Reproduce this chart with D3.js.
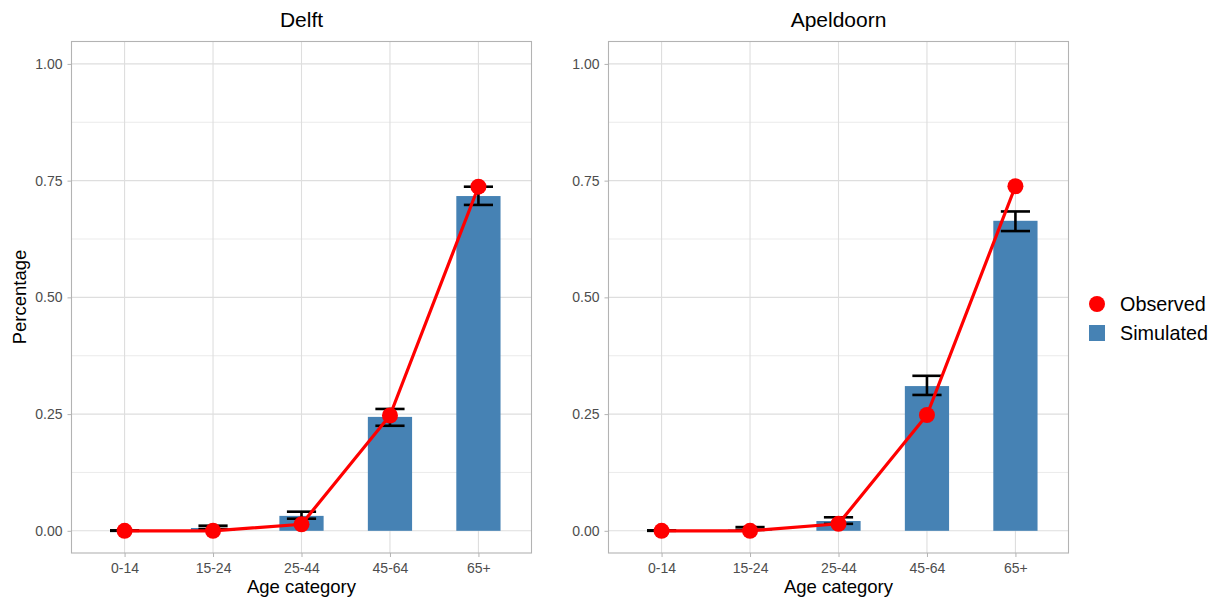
<!DOCTYPE html>
<html>
<head>
<meta charset="utf-8">
<script src="https://cdn.jsdelivr.net/npm/d3@7"></script>
<style>
  body { margin: 0; background: #fff; }
  svg { display: block; font-family: "Liberation Sans", Arial, sans-serif; }
</style>
</head>
<body>
<svg id="chart" width="1211" height="602"></svg>
<script>
// Data
const categories = ["0-14", "15-24", "25-44", "45-64", "65+"];
const panels = ["Delft", "Apeldoorn"];

const delftSimulated = [0.000, 0.006, 0.032, 0.244, 0.717];
const delftLower = [0.000, 0.004, 0.026, 0.225, 0.698];
const delftUpper = [0.001, 0.011, 0.041, 0.261, 0.737];
const delftObserved = [0.000, 0.000, 0.014, 0.247, 0.737];

const apeldoornSimulated = [0.000, 0.003, 0.021, 0.310, 0.664];
const apeldoornLower = [0.000, 0.002, 0.015, 0.291, 0.642];
const apeldoornUpper = [0.001, 0.008, 0.029, 0.332, 0.684];
const apeldoornObserved = [0.000, 0.000, 0.015, 0.248, 0.738];

const yTicks = [0, 0.25, 0.5, 0.75, 1.0];
const yMinor = [0.125, 0.375, 0.625, 0.875];

const panelData = [
  { name: panels[0], sim: delftSimulated, lo: delftLower, hi: delftUpper, obs: delftObserved },
  { name: panels[1], sim: apeldoornSimulated, lo: apeldoornLower, hi: apeldoornUpper, obs: apeldoornObserved }
];

const svg = d3.select("#chart");
const panelLefts = [71.5, 608.5];
const panelWidth = 460;
const panelTop = 41.5, panelBottom = 553;

const yScale = d3.scaleLinear().domain([-0.0475, 1.048]).range([panelBottom, panelTop]);

panelData.forEach((p, i) => {
  const left = panelLefts[i];
  const g = svg.append("g");

  // discrete x with ggplot style 0.6 expansion
  const xScale = d3.scalePoint()
    .domain(categories)
    .range([left, left + panelWidth])
    .padding(0.6);
  const step = xScale.step();

  // grid
  g.selectAll(".minor")
    .data(yMinor)
    .join("line")
    .attr("x1", left).attr("x2", left + panelWidth)
    .attr("y1", (d) => yScale(d)).attr("y2", (d) => yScale(d))
    .attr("stroke", "#e6e6e6").attr("stroke-width", 0.8);
  g.selectAll(".major")
    .data(yTicks)
    .join("line")
    .attr("x1", left).attr("x2", left + panelWidth)
    .attr("y1", (d) => yScale(d)).attr("y2", (d) => yScale(d))
    .attr("stroke", "#dedede").attr("stroke-width", 1.1);
  g.selectAll(".vgrid")
    .data(categories)
    .join("line")
    .attr("x1", (d) => xScale(d)).attr("x2", (d) => xScale(d))
    .attr("y1", panelTop).attr("y2", panelBottom)
    .attr("stroke", "#dedede").attr("stroke-width", 1.1);

  // bars
  g.selectAll(".bar")
    .data(p.sim)
    .join("rect")
    .attr("x", (d, j) => xScale(categories[j]) - step * 0.25)
    .attr("width", step * 0.5)
    .attr("y", (d) => yScale(Math.max(d, 0)))
    .attr("height", (d) => Math.abs(yScale(0) - yScale(d)))
    .attr("fill", "#4682b4");

  // error bars
  const capHalf = step * 0.165;
  const eb = g.selectAll(".err")
    .data(p.sim.map((d, j) => ({ c: categories[j], lo: p.lo[j], hi: p.hi[j] })))
    .join("g")
    .attr("stroke", "#000").attr("stroke-width", 2.6);
  eb.append("line")
    .attr("x1", (d) => xScale(d.c)).attr("x2", (d) => xScale(d.c))
    .attr("y1", (d) => yScale(d.lo)).attr("y2", (d) => yScale(d.hi));
  eb.append("line")
    .attr("x1", (d) => xScale(d.c) - capHalf).attr("x2", (d) => xScale(d.c) + capHalf)
    .attr("y1", (d) => yScale(d.lo)).attr("y2", (d) => yScale(d.lo));
  eb.append("line")
    .attr("x1", (d) => xScale(d.c) - capHalf).attr("x2", (d) => xScale(d.c) + capHalf)
    .attr("y1", (d) => yScale(d.hi)).attr("y2", (d) => yScale(d.hi));

  // observed line + points
  const line = d3.line()
    .x((d, j) => xScale(categories[j]))
    .y((d) => yScale(d));
  g.append("path")
    .datum(p.obs)
    .attr("d", line)
    .attr("fill", "none")
    .attr("stroke", "#ff0000")
    .attr("stroke-width", 3.2);
  g.selectAll(".pt")
    .data(p.obs)
    .join("circle")
    .attr("cx", (d, j) => xScale(categories[j]))
    .attr("cy", (d) => yScale(d))
    .attr("r", 8)
    .attr("fill", "#ff0000");

  // border
  g.append("rect")
    .attr("x", left).attr("y", panelTop)
    .attr("width", panelWidth).attr("height", panelBottom - panelTop)
    .attr("fill", "none").attr("stroke", "#b3b3b3").attr("stroke-width", 1.1);

  // axes
  const yAxis = g.append("g")
    .attr("transform", `translate(${left},0)`)
    .call(d3.axisLeft(yScale).tickValues(yTicks).tickFormat(d3.format(".2f")).tickSize(4).tickPadding(5));
  yAxis.select(".domain").remove();
  yAxis.selectAll("line").attr("stroke", "#b3b3b3");
  yAxis.selectAll("text").style("font-size", "14px").attr("fill", "#4d4d4d");

  const xAxis = g.append("g")
    .attr("transform", `translate(0,${panelBottom})`)
    .call(d3.axisBottom(xScale).tickSize(4).tickPadding(6));
  xAxis.select(".domain").remove();
  xAxis.selectAll("line").attr("stroke", "#b3b3b3");
  xAxis.selectAll("text").style("font-size", "14px").attr("fill", "#4d4d4d");

  // title
  g.append("text")
    .attr("x", left + panelWidth / 2)
    .attr("y", 27)
    .attr("text-anchor", "middle")
    .style("font-size", "21px")
    .attr("fill", "#000")
    .text(p.name);

  // x label
  g.append("text")
    .attr("x", left + panelWidth / 2)
    .attr("y", 593)
    .attr("text-anchor", "middle")
    .style("font-size", "18.5px")
    .attr("fill", "#000")
    .text("Age category");
});

// y label
svg.append("text")
  .attr("transform", "translate(26,297) rotate(-90)")
  .attr("text-anchor", "middle")
  .style("font-size", "18.5px")
  .attr("fill", "#000")
  .text("Percentage");

// legend
const legend = svg.append("g");
legend.append("circle")
  .attr("cx", 1097).attr("cy", 304).attr("r", 8).attr("fill", "#ff0000");
legend.append("rect")
  .attr("x", 1089).attr("y", 325).attr("width", 16).attr("height", 16).attr("fill", "#4682b4");
legend.append("text")
  .attr("x", 1120).attr("y", 311)
  .style("font-size", "19.8px").attr("fill", "#000")
  .text("Observed");
legend.append("text")
  .attr("x", 1120).attr("y", 340)
  .style("font-size", "19.8px").attr("fill", "#000")
  .text("Simulated");
</script>
</body>
</html>
